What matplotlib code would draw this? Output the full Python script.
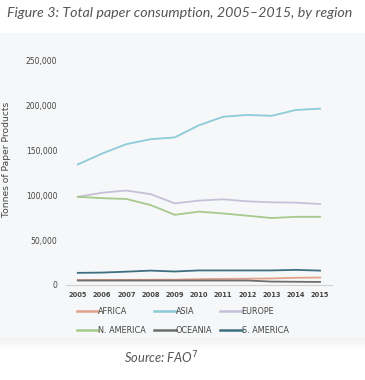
import matplotlib
matplotlib.use("Agg")
import matplotlib.pyplot as plt
from matplotlib.patches import Rectangle

years = [2005, 2006, 2007, 2008, 2009, 2010, 2011, 2012, 2013, 2014, 2015]
africa = [5500, 5600, 5700, 5800, 5900, 6500, 6800, 7000, 7300, 8000, 8300]
asia = [134000, 146000, 156500, 162000, 164000, 177500, 187000, 189000, 188000, 194500, 196000]
europe = [98000, 102500, 105000, 101000, 90700, 93800, 95200, 93000, 91900, 91500, 90000]
n_america = [98000, 96500, 95600, 88900, 78000, 81500, 79500, 77000, 74400, 75800, 75800]
oceania = [5000, 5000, 5000, 5000, 5000, 5000, 5000, 5000, 3800, 3600, 3400]
s_america = [13500, 13800, 14800, 16000, 15000, 16200, 16200, 16200, 16200, 16800, 16000]

series = [
    ("AFRICA", africa, "#e3a08a"),
    ("ASIA", asia, "#8ccbd8"),
    ("EUROPE", europe, "#c6c1d8"),
    ("N. AMERICA", n_america, "#a6c98c"),
    ("OCEANIA", oceania, "#6e6e6e"),
    ("S. AMERICA", s_america, "#3d6f80"),
]

fig = plt.figure(figsize=(3.65, 3.8), dpi=100)
fig.patch.set_facecolor("white")

# panel behind the chart + soft shadow
for i in range(8):
    fig.patches.append(Rectangle((0, 0.108 - i * 0.004), 1, 0.004, transform=fig.transFigure,
                                 facecolor="#000000", alpha=0.05 * (8 - i) / 8, zorder=-3,
                                 edgecolor="none"))
fig.patches.append(Rectangle((0, 0.11), 1, 0.803, transform=fig.transFigure,
                             facecolor="#f6f7f8", edgecolor="none", zorder=-2))

fig.text(0.02, 0.967, "Figure 3: Total paper consumption, 2005\u20132015, by region",
         fontsize=10.3, style="italic", color="#555555", family="Lato", va="center")
fig.text(0.34, 0.058, "Source: FAO$^7$", fontsize=9.3, style="italic", color="#555555",
         family="Lato", va="center")

ax = fig.add_axes([0.18, 0.25, 0.73, 0.592])
ax.set_facecolor("none")
lines = {}
for name, vals, col in series:
    lines[name], = ax.plot(years, vals, color=col, lw=1.3, label=name)

ax.set_ylim(0, 250000)
ax.set_xlim(2004.5, 2015.5)
ax.set_xticks(years)
ax.set_yticks(range(0, 250001, 50000))
ax.set_yticklabels(["{:,}".format(v) for v in range(0, 250001, 50000)])
for s in ["top", "right", "left"]:
    ax.spines[s].set_visible(False)
ax.spines["bottom"].set_color("#d0d0d0")
ax.spines["bottom"].set_linewidth(0.8)
ax.tick_params(axis="y", length=0, labelsize=5.5, colors="#444444", pad=6)
ax.tick_params(axis="x", length=0, labelsize=4.8, colors="#444444", pad=5)
for lab in ax.get_xticklabels():
    lab.set_fontweight("bold")
ax.set_ylabel("Tonnes of Paper Products", fontsize=6.6, color="#444444")
ax.yaxis.set_label_coords(-0.205, 0.56)

order = ["AFRICA", "N. AMERICA", "ASIA", "OCEANIA", "EUROPE", "S. AMERICA"]
leg = fig.legend([lines[n] for n in order], order, ncol=3, frameon=False,
                 loc="upper left", bbox_to_anchor=(0.2, 0.203), fontsize=5.9,
                 handlelength=2.6, handletextpad=0.0, columnspacing=1.0,
                 labelspacing=1.2, borderpad=0)
for h in leg.legend_handles:
    h.set_linewidth(1.8)
for t in leg.get_texts():
    t.set_color("#444444")

plt.savefig("out.png", dpi=100)
